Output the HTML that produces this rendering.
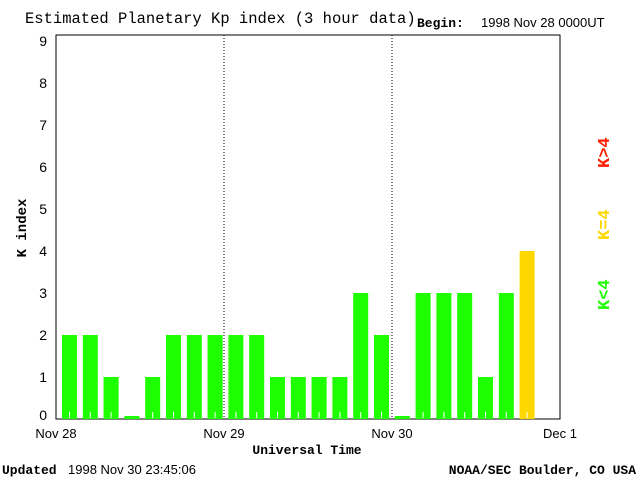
<!DOCTYPE html>
<html><head><meta charset="utf-8"><style>
body{margin:0;background:#fff}
svg{display:block}
text{font-family:"Liberation Sans",sans-serif}
.serif{font-family:"Liberation Mono","DejaVu Sans Mono",monospace}
</style></head><body>
<svg id="c" width="640" height="480">
<text x="25" y="23" font-size="15.5" class="serif">Estimated Planetary Kp index (3 hour data)</text>
<text x="417" y="27" font-size="13" class="serif" font-weight="bold">Begin:</text>
<text x="481" y="27" font-size="13">1998 Nov 28 0000UT</text>
<rect x="56" y="35" width="504" height="384" fill="none" stroke="#000" stroke-width="1"/>
<g id="bars"></g>
<g id="yt"></g>
<g id="xt"></g>
<text x="307" y="454" font-size="13" class="serif" font-weight="bold" text-anchor="middle">Universal Time</text>
<text transform="translate(26,228) rotate(-90)" font-size="14" class="serif" font-weight="bold" text-anchor="middle">K index</text>
<text transform="translate(609,310) rotate(-90)" font-size="17" class="serif" font-weight="bold" fill="#1eff00">K&lt;4</text>
<text transform="translate(609,240) rotate(-90)" font-size="17" class="serif" font-weight="bold" fill="#ffd700">K=4</text>
<text transform="translate(609,168) rotate(-90)" font-size="17" class="serif" font-weight="bold" fill="#ff2000">K&gt;4</text>
<text x="2" y="474" font-size="13" class="serif" font-weight="bold">Updated</text>
<text x="68" y="474" font-size="13">1998 Nov 30 23:45:06</text>
<text x="636" y="474" font-size="13" class="serif" font-weight="bold" text-anchor="end">NOAA/SEC Boulder, CO USA</text>
</svg>
<script>
const kpValues=[2,2,1,0,1,2,2,2, 2,2,1,1,1,1,3,2, 0,3,3,3,1,3,4];
const yTicks=[0,1,2,3,4,5,6,7,8,9];
const dayLabels=["Nov 28","Nov 29","Nov 30","Dec 1"];
const NS="http://www.w3.org/2000/svg";
const x0=56,dayW=168,barStart=62,barStep=20.8,y0=419,unit=42;
function xs(i){return barStart+i*barStep;}
function ys(v){return y0-v*unit;}
function mk(t,a,p){const e=document.createElementNS(NS,t);for(const k in a)e.setAttribute(k,a[k]);p.appendChild(e);return e;}
const bars=document.getElementById('bars');
kpValues.forEach((v,i)=>{
  const h=v===0?3:y0-ys(v);
  const col=v<4?'#1eff00':(v===4?'#ffd700':'#ff2000');
  const r=mk('rect',{x:xs(i),y:y0-h,width:15,height:h,fill:col},bars);
  
  
  if(v>0){const t=mk('line',{x1:xs(i)+7.5,x2:xs(i)+7.5,y1:y0-7,y2:y0-1,stroke:'#fff','stroke-width':1},bars);
  
  }
});
const yt=document.getElementById('yt');
yTicks.forEach(v=>{
  const t=mk('text',{x:47,y:ys(v)+(v===0?1:5),'font-size':14,'text-anchor':'end'},yt);
  t.textContent=v;
  
  
});
const xt=document.getElementById('xt');
dayLabels.forEach((d,i)=>{
  const x=x0+i*dayW;
  const t=mk('text',{x:x,y:438,'font-size':13,'text-anchor':'middle'},xt);
  t.textContent=d;
  
  
  if(i>0&&i<3){const l=mk('line',{x1:x,x2:x,y1:35,y2:419,stroke:'#000','stroke-dasharray':'1,2'},xt);
  
  }
});
</script>
</body></html>
